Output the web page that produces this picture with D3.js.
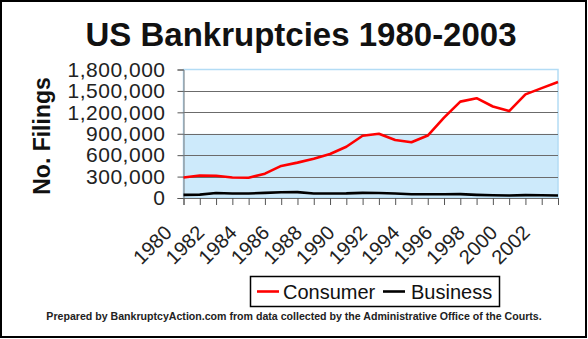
<!DOCTYPE html>
<html>
<head>
<meta charset="utf-8">
<script src="https://cdn.jsdelivr.net/npm/d3@7"></script>
<style>
  html, body { margin: 0; padding: 0; background: #fff; }
  svg { display: block; font-family: Arial, "Liberation Sans", sans-serif; }
</style>
</head>
<body>
<svg id="chart" width="588" height="339"></svg>
<script>
// Annual bankruptcy filings in the United States
const years = [1980, 1981, 1982, 1983, 1984, 1985, 1986, 1987, 1988, 1989, 1990, 1991,
               1992, 1993, 1994, 1995, 1996, 1997, 1998, 1999, 2000, 2001, 2002, 2003];
const consumer = [287570, 315818, 310951, 286444, 284517, 341189, 449203, 495553,
                  549612, 616226, 718107, 872438, 900874, 812898, 780455, 874642,
                  1125006, 1350118, 1398182, 1281581, 1217972, 1452030, 1539111, 1625208];
const business = [43694, 47415, 69300, 62436, 64004, 71277, 81235, 82446,
                  63853, 63235, 64853, 71549, 70643, 62304, 52374, 51959,
                  53549, 54027, 44367, 37884, 35472, 40099, 38540, 35037];
const yTicks = [0, 300000, 600000, 900000, 1200000, 1500000, 1800000];
const seriesNames = ["Consumer", "Business"];
const seriesColors = ["#ff0000", "#000000"];

const svg = d3.select("#chart");
const W = 588, H = 339;

// Outer frame
svg.append("rect").attr("x", 1).attr("y", 1).attr("width", W - 3).attr("height", H - 3)
  .attr("fill", "#fff").attr("stroke", "#000").attr("stroke-width", 2);

const plotL = 183.5, plotR = 558, plotT = 69.5, plotB = 198;
const x = d3.scalePoint().domain(years).range([plotL, plotR]);
const y = d3.scaleLinear().domain([0, 1800000]).range([plotB, plotT]);

// Plot area: white upper band, light blue lower band
svg.append("rect").attr("x", plotL).attr("y", plotT).attr("width", plotR - plotL)
  .attr("height", plotB - plotT).attr("fill", "#ffffff");
svg.append("rect").attr("x", plotL).attr("y", y(900000)).attr("width", plotR - plotL)
  .attr("height", plotB - y(900000)).attr("fill", "#cdeafb");
svg.append("rect").attr("x", plotL).attr("y", plotT).attr("width", plotR - plotL)
  .attr("height", plotB - plotT).attr("fill", "none").attr("stroke", "#b3dcf5").attr("stroke-width", 1.5);

// Horizontal gridlines
svg.append("g").selectAll("line").data(yTicks.filter(v => v > 0 && v < 1800000)).join("line")
  .attr("x1", plotL).attr("x2", plotR)
  .attr("y1", d => Math.round(y(d)) + 0.5).attr("y2", d => Math.round(y(d)) + 0.5)
  .attr("stroke", "#6b6b6b").attr("stroke-width", 1);

// Title
svg.append("text").attr("x", 301).attr("y", 46).attr("text-anchor", "middle")
  .attr("font-size", 33).attr("font-weight", "bold").attr("fill", "#111")
  .text("US Bankruptcies 1980-2003");

// Y axis
const yAxis = svg.append("g").attr("transform", `translate(${plotL},0)`)
  .call(d3.axisLeft(y).tickValues(yTicks).tickFormat(d3.format(",")).tickSize(6).tickPadding(12));
yAxis.select(".domain").attr("stroke", "#7a7a7a");
yAxis.selectAll(".tick line").attr("stroke", "#555");
yAxis.selectAll("text").attr("font-size", 21).attr("letter-spacing", 0.5)
  .attr("fill", "#222").attr("font-family", "Arial, 'Liberation Sans', sans-serif");

svg.append("text").attr("transform", "translate(50,136) rotate(-90)").attr("text-anchor", "middle")
  .attr("font-size", 23).attr("font-weight", "bold").attr("fill", "#111")
  .text("No. Filings");

// X axis
const xAxis = svg.append("g").attr("transform", `translate(0,${plotB})`)
  .call(d3.axisBottom(x).tickSize(7).tickFormat(d => d % 2 === 0 ? d : ""));
xAxis.select(".domain").attr("stroke", "#6b6b6b");
xAxis.selectAll(".tick line").attr("stroke", "#555");
xAxis.selectAll("text")
  .attr("font-size", 20).attr("fill", "#222").attr("font-family", "Arial, 'Liberation Sans', sans-serif")
  .attr("text-anchor", "end").attr("dy", 0).attr("y", 0)
  .attr("transform", "translate(-11,36) rotate(-45)");

// Series lines
const line = d3.line().x((d, i) => x(years[i])).y(d => y(d));
[consumer, business].forEach((vals, k) => {
  svg.append("path").datum(vals).attr("d", line)
    .attr("fill", "none").attr("stroke", seriesColors[k]).attr("stroke-width", 2.6)
    .attr("stroke-linejoin", "round");
});

// Legend
svg.append("rect").attr("x", 250.5).attr("y", 276.5).attr("width", 249).attr("height", 30)
  .attr("fill", "#fff").attr("stroke", "#000").attr("stroke-width", 1.5);
const legendItems = [{ x: 257, tx: 283 }, { x: 383, tx: 411 }];
legendItems.forEach((it, k) => {
  svg.append("line").attr("x1", it.x).attr("x2", it.x + 22).attr("y1", 291.5).attr("y2", 291.5)
    .attr("stroke", seriesColors[k]).attr("stroke-width", 2.6);
  svg.append("text").attr("x", it.tx).attr("y", 299).attr("font-size", 20).attr("fill", "#111")
    .text(seriesNames[k]);
});

// Source note
svg.append("text").attr("x", 294).attr("y", 320).attr("text-anchor", "middle")
  .attr("font-size", 10.6).attr("font-weight", "bold").attr("fill", "#222")
  .text("Prepared by BankruptcyAction.com from data collected by the Administrative Office of the Courts.");
</script>
</body>
</html>
